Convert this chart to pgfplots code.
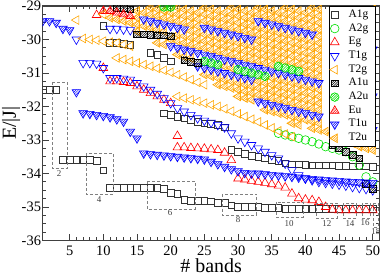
\documentclass[border=0pt]{standalone}
\usepackage{fontspec}
\setmainfont{Liberation Serif}
\usepackage{pgfplots}
\pgfplotsset{compat=1.18}
\usetikzlibrary{patterns}
\definecolor{cOr}{RGB}{255,165,0}
\definecolor{cGr}{RGB}{0,225,0}
\definecolor{cBl}{RGB}{0,0,255}
\definecolor{cRd}{RGB}{255,0,0}
\pgfdeclarepatternformonly{hatch}{\pgfqpoint{-1pt}{-1pt}}{\pgfqpoint{3.5pt}{3.5pt}}{\pgfqpoint{2.4pt}{2.4pt}}{\pgfsetlinewidth{0.5pt}\pgfpathmoveto{\pgfqpoint{0pt}{0pt}}\pgfpathlineto{\pgfqpoint{2.5pt}{2.5pt}}\pgfusepath{stroke}}
\pgfdeclareplotmark{tdown}{\pgfpathmoveto{\pgfqpointpolar{270}{\pgfplotmarksize}}\pgfpathlineto{\pgfqpointpolar{30}{\pgfplotmarksize}}\pgfpathlineto{\pgfqpointpolar{150}{\pgfplotmarksize}}\pgfpathclose\pgfusepathqstroke}
\pgfdeclareplotmark{tleft}{\pgfpathmoveto{\pgfqpointpolar{180}{\pgfplotmarksize}}\pgfpathlineto{\pgfqpointpolar{300}{\pgfplotmarksize}}\pgfpathlineto{\pgfqpointpolar{60}{\pgfplotmarksize}}\pgfpathclose\pgfusepathqstroke}
\pgfdeclareplotmark{hsqK}{\pgfsetfillpattern{hatch}{black}\pgfpathrectangle{\pgfqpoint{-\pgfplotmarksize}{-\pgfplotmarksize}}{\pgfqpoint{2\pgfplotmarksize}{2\pgfplotmarksize}}\pgfusepathqfillstroke}
\pgfdeclareplotmark{hciG}{\pgfsetfillpattern{hatch}{cGr}\pgfpathcircle{\pgfpointorigin}{\pgfplotmarksize}\pgfusepathqfillstroke}
\pgfdeclareplotmark{htrR}{\pgfsetfillpattern{hatch}{cRd}\pgfpathmoveto{\pgfqpointpolar{90}{\pgfplotmarksize}}\pgfpathlineto{\pgfqpointpolar{210}{\pgfplotmarksize}}\pgfpathlineto{\pgfqpointpolar{330}{\pgfplotmarksize}}\pgfpathclose\pgfusepathqfillstroke}
\pgfdeclareplotmark{htdB}{\pgfsetfillpattern{hatch}{cBl}\pgfpathmoveto{\pgfqpointpolar{270}{\pgfplotmarksize}}\pgfpathlineto{\pgfqpointpolar{30}{\pgfplotmarksize}}\pgfpathlineto{\pgfqpointpolar{150}{\pgfplotmarksize}}\pgfpathclose\pgfusepathqfillstroke}
\pgfdeclareplotmark{htlO}{\pgfsetfillpattern{hatch}{cOr}\pgfpathmoveto{\pgfqpointpolar{180}{\pgfplotmarksize}}\pgfpathlineto{\pgfqpointpolar{300}{\pgfplotmarksize}}\pgfpathlineto{\pgfqpointpolar{60}{\pgfplotmarksize}}\pgfpathclose\pgfusepathqfillstroke}
\pgfplotsset{
 sA1g/.style={only marks, mark=square, color=black!80, mark size=3.3bp, mark options={line width=0.6bp}},
 sA2g/.style={only marks, mark=o, color=cGr, mark size=4.3bp, mark options={line width=0.6bp}},
 sEg/.style={only marks, mark=triangle, color=cRd, mark size=5bp, mark options={line width=0.6bp}},
 sT1g/.style={only marks, mark=tdown, color=cBl, mark size=5bp, mark options={line width=0.6bp}},
 sT2g/.style={only marks, mark=tleft, color=cOr, mark size=5bp, mark options={line width=0.6bp}},
 sA1u/.style={only marks, mark=hsqK, color=black, mark size=3.3bp, mark options={line width=0.6bp}},
 sA2u/.style={only marks, mark=hciG, color=cGr, mark size=4.3bp, mark options={line width=0.6bp}},
 sEu/.style={only marks, mark=htrR, color=cRd, mark size=5bp, mark options={line width=0.6bp}},
 sT1u/.style={only marks, mark=htdB, color=cBl, mark size=5bp, mark options={line width=0.6bp}},
 sT2u/.style={only marks, mark=htlO, color=cOr, mark size=5bp, mark options={line width=0.6bp}},
}
\begin{document}
\begin{tikzpicture}
\begin{axis}[
 scale only axis, width=336.8bp, height=234.5bp,
 xmin=1, xmax=51, ymin=-36, ymax=-29,
 xtick={5,10,15,20,25,30,35,40,45,50}, xticklabels={5,10,15,20,25,30,35,40,45,50},
 ytick={-36,-35,-34,-33,-32,-31,-30,-29}, yticklabels={-36,-35,-34,-33,-32,-31,-30,-29},
 minor x tick num=4, minor y tick num=3,
 major tick length=6bp, minor tick length=3.5bp,
 tick style={line width=0.8bp, color=black!75},
 axis line style={line width=1.1bp, color=black!75},
 tick label style={font=\fontsize{14.5}{15}\selectfont},
 yticklabel style={inner xsep=1.5bp},
 xticklabel style={yshift=-2bp},
 every axis x label/.style={at={(axis description cs:0.5,0)}, anchor=base, yshift=-32.5bp, font=\fontsize{20}{22}\selectfont},
 every axis y label/.style={at={(axis description cs:0,0.5)}, xshift=-31.5bp, rotate=90, anchor=center, font=\fontsize{20}{22}\selectfont},
 xlabel={\# bands}, ylabel={E/|J|},
 clip marker paths=true,
 legend cell align=left,
 legend style={at={(1,1)}, anchor=north east, xshift=-3.5bp, draw=black, line width=0.8bp, fill=white,
   inner xsep=0bp, inner ysep=3.5bp, font=\fontsize{11.5}{13}\selectfont, row sep=3.7bp,
   nodes={inner sep=0bp, text height=7.5bp, text depth=2.5bp},
   /tikz/every odd column/.append style={column sep=9.5bp}},
]
% dense T2u cloud
\addplot[sT2u, forget plot] coordinates {
(11,-29.35)(12,-29.4)(13,-29.45)(14,-29.5)
(15,-29.15)(15,-29.35)(15,-29.55)(15,-29.75)
(16,-29.2)(16,-29.6)
(17,-29.05)(17,-29.25)(17,-29.65)
(18,-29.1)(18,-29.3)(18,-29.7)(18,-30.1)
(19,-29.15)(19,-29.35)(19,-29.75)(19,-30.15)
(20,-29.2)(20,-29.4)(20,-30.0)
(21,-29.05)(21,-29.25)(21,-29.45)(21,-29.85)(21,-30.05)(21,-30.45)
(22,-29.1)(22,-29.3)(22,-29.5)(22,-29.9)(22,-30.1)(22,-30.5)
(23,-29.15)(23,-29.35)(23,-29.55)(23,-29.75)(23,-29.95)(23,-30.15)(23,-30.55)
(24,-29.2)(24,-29.4)(24,-29.6)(24,-29.8)(24,-30.0)(24,-30.2)
(25,-29.05)(25,-29.25)(25,-29.45)(25,-29.85)(25,-30.05)(25,-30.25)(25,-31.05)
(26,-29.1)(26,-29.3)(26,-29.5)(26,-29.9)(26,-30.1)(26,-30.3)(26,-31.1)
(27,-29.15)(27,-29.35)(27,-29.55)(27,-29.95)(27,-30.15)(27,-30.35)(27,-31.15)(27,-31.35)
(28,-29.2)(28,-29.4)(28,-29.6)(28,-30.0)(28,-30.2)(28,-30.4)(28,-30.8)(28,-31.2)(28,-31.4)
(29,-29.05)(29,-29.25)(29,-29.45)(29,-29.65)(29,-30.05)(29,-30.25)(29,-30.45)(29,-30.85)(29,-31.25)(29,-31.45)
(30,-29.1)(30,-29.3)(30,-29.5)(30,-29.7)(30,-30.1)(30,-30.3)(30,-30.5)(30,-31.3)(30,-31.5)(30,-31.7)
(31,-29.15)(31,-29.35)(31,-29.55)(31,-29.75)(31,-30.15)(31,-30.35)(31,-30.55)(31,-31.35)(31,-31.55)(31,-31.75)
(32,-29.2)(32,-29.4)(32,-29.6)(32,-29.8)(32,-30.2)(32,-30.4)(32,-30.6)(32,-31.4)(32,-31.6)(32,-31.8)
(33,-29.05)(33,-29.25)(33,-29.65)(33,-29.85)(33,-30.05)(33,-30.25)(33,-30.45)(33,-30.65)(33,-31.25)(33,-31.45)(33,-31.65)
(34,-29.1)(34,-29.3)(34,-29.7)(34,-29.9)(34,-30.1)(34,-30.3)(34,-30.5)(34,-30.7)(34,-31.3)(34,-31.5)(34,-31.7)(34,-32.1)
(35,-29.15)(35,-29.35)(35,-29.75)(35,-29.95)(35,-30.15)(35,-30.35)(35,-30.55)(35,-30.75)(35,-31.15)(35,-31.35)(35,-31.55)(35,-31.75)(35,-32.15)
(36,-29.2)(36,-29.4)(36,-29.8)(36,-30.0)(36,-30.2)(36,-30.4)(36,-30.6)(36,-31.2)(36,-31.4)(36,-31.6)(36,-31.8)(36,-32.2)
(37,-29.05)(37,-29.25)(37,-29.45)(37,-29.85)(37,-30.05)(37,-30.25)(37,-30.45)(37,-30.65)(37,-31.25)(37,-31.45)(37,-31.65)(37,-31.85)(37,-32.25)
(38,-29.1)(38,-29.3)(38,-29.5)(38,-29.9)(38,-30.1)(38,-30.3)(38,-30.5)(38,-30.7)(38,-31.3)(38,-31.5)(38,-31.7)(38,-31.9)(38,-32.3)(38,-32.5)
(39,-29.15)(39,-29.35)(39,-29.55)(39,-29.95)(39,-30.15)(39,-30.35)(39,-30.55)(39,-30.75)(39,-31.35)(39,-31.55)(39,-31.75)(39,-31.95)(39,-32.35)(39,-32.55)
(40,-29.2)(40,-29.4)(40,-29.6)(40,-30.0)(40,-30.2)(40,-30.4)(40,-30.6)(40,-30.8)(40,-31.0)(40,-31.4)(40,-31.6)(40,-31.8)(40,-32.0)(40,-32.4)
(41,-29.05)(41,-29.25)(41,-29.45)(41,-29.65)(41,-30.05)(41,-30.25)(41,-30.45)(41,-30.65)(41,-30.85)(41,-31.05)(41,-31.45)(41,-31.65)(41,-31.85)(41,-32.05)(41,-32.45)(41,-32.65)
(42,-29.1)(42,-29.3)(42,-29.5)(42,-29.7)(42,-29.9)(42,-30.1)(42,-30.3)(42,-30.5)(42,-30.7)(42,-30.9)(42,-31.1)(42,-31.5)(42,-31.7)(42,-31.9)(42,-32.1)(42,-32.5)(42,-32.7)
(43,-32.75)(44,-32.8)(45,-32.9)(46,-33.0)(47,-33.1)(48,-33.2)(49,-33.25)
(50,-29.1)(50,-29.3)(50,-29.5)(50,-29.7)(50,-29.9)(50,-30.1)(50,-30.5)(50,-30.7)(50,-30.9)(50,-31.1)(50,-31.3)(50,-31.5)(50,-31.9)(50,-32.1)(50,-32.3)(50,-32.5)(50,-32.9)(50,-33.1)(50,-33.3)
};
% dense streaks
\addplot[sT1u, forget plot] coordinates {
(16,-29.4)(17,-29.45)(18,-29.5)(19,-29.55)(20,-29.6)(21,-29.65)(22,-29.7)
(25,-29.65)(26,-29.7)(27,-29.75)(28,-29.8)(29,-29.85)(30,-29.9)(31,-29.95)(32,-30.0)
(33,-29.45)(34,-29.5)(35,-29.55)(36,-29.6)(37,-29.65)(38,-29.7)(39,-29.75)(40,-29.8)(41,-29.85)
(20,-30.2)(21,-30.25)(22,-30.3)(23,-30.35)(24,-30.4)(25,-30.45)(26,-30.5)(27,-30.55)(28,-30.6)(29,-30.65)(30,-30.7)(31,-30.75)(32,-30.8)(33,-30.85)(34,-30.9)(35,-30.95)(36,-31.0)(37,-31.05)(38,-31.1)(39,-31.15)(40,-31.2)(41,-31.25)(42,-31.3)
(24,-30.8)(25,-30.85)(26,-30.9)(27,-30.95)(28,-31.0)(29,-31.05)(30,-31.1)(31,-31.15)(32,-31.2)
(33,-31.85)(34,-31.9)(35,-31.95)(36,-32.0)(37,-32.05)(38,-32.1)(39,-32.15)(40,-32.2)(41,-32.25)(42,-32.3)
(50,-30.3)(50,-31.7)(50,-32.7)
};
\addplot[sA2u, forget plot] coordinates {
(19,-29.03)(20,-29.03)(25,-30.65)(26,-30.7)(27,-30.75)(30,-30.9)(31,-30.95)(32,-31.0)(33,-31.05)(34,-31.1)(36,-30.8)(37,-30.85)(38,-30.9)(39,-30.95)
};
\addplot[sA1u, forget plot] coordinates {
(12,-29.05)(13,-29.05)(14,-29.1)(15,-29.85)(16,-29.85)(17,-29.86)(18,-29.87)(19,-29.88)(20,-29.9)(22,-30.62)(23,-30.66)(24,-30.7)
};
\addplot[sEu, forget plot] coordinates {
(10,-29.15)(11,-29.15)(12,-29.2)(13,-29.25)(14,-29.3)
};
% sparse series
\addplot[sA1g, forget plot] coordinates {
(1,-31.5)(2,-31.5)(3,-31.5)
(4,-33.6)(5,-33.6)(6,-33.6)(7,-33.6)(8,-33.6)(9,-33.62)(10,-33.9)
(11,-34.43)(12,-34.43)(13,-34.43)(14,-34.43)(15,-34.43)(16,-34.43)(17,-34.43)(18,-34.43)(19,-34.45)(20,-34.57)(21,-34.6)(22,-34.78)(23,-34.82)(24,-34.82)(25,-34.82)(26,-34.83)(27,-34.87)(28,-34.88)(29,-34.95)(30,-35.0)(31,-35.0)(32,-35.0)(33,-35.0)(34,-35.02)(35,-35.02)(36,-35.03)(37,-35.05)(38,-35.05)(39,-35.05)(40,-35.05)(41,-35.05)(42,-35.05)(43,-35.05)(44,-35.05)(45,-35.05)(46,-35.05)(47,-35.05)(48,-35.05)(49,-35.05)(50,-35.05)
(10,-29.6)(11,-30.1)(12,-30.1)(13,-30.12)(14,-30.15)
(17,-30.4)(18,-30.45)(19,-30.55)(20,-30.65)
(19,-32.2)(20,-32.25)(21,-32.3)(22,-32.35)(23,-32.4)(24,-32.45)(25,-32.5)(26,-32.52)(27,-32.55)(28,-32.62)(29,-33.3)(30,-33.35)(31,-33.42)(32,-33.48)(33,-33.5)(34,-33.55)(35,-33.6)(36,-33.62)(37,-33.7)(38,-33.72)(39,-33.73)(40,-33.74)(41,-33.75)(42,-33.75)(43,-33.76)(44,-33.76)(45,-33.77)(46,-33.77)(47,-33.78)(48,-33.78)(49,-33.79)(50,-33.8)
};
\addplot[sA2g, forget plot] coordinates {
(36,-32.8)(37,-32.85)(38,-32.9)(39,-32.95)(40,-33.0)(41,-33.05)(42,-33.12)(43,-33.2)(44,-33.25)(45,-33.3)(46,-33.35)(47,-33.5)(48,-33.75)(49,-34.1)(50,-34.25)
};
\addplot[sEg, forget plot] coordinates {
(9,-29.27)(10,-30.85)(11,-31.25)(12,-31.25)(13,-31.27)(14,-31.3)(15,-31.4)(16,-31.5)(17,-31.6)(18,-31.7)(19,-31.8)(20,-31.9)(21,-32.88)
(21,-33.22)(22,-33.22)(23,-33.24)(24,-33.25)(25,-33.26)(26,-33.28)(27,-33.3)(28,-33.38)(29,-33.6)
(30,-34.15)(31,-34.18)(32,-34.22)(33,-34.25)(34,-34.28)(35,-34.32)(36,-34.36)(37,-34.42)(38,-34.6)(39,-34.74)(40,-34.78)(41,-34.8)(42,-34.85)(43,-35.0)(44,-35.08)(45,-35.1)(46,-35.1)(47,-35.1)(48,-35.1)(49,-35.1)(50,-35.1)
};
\addplot[sT1g, forget plot] coordinates {
(11,-29.68)(12,-29.68)(13,-29.7)(14,-29.72)
(6,-30.0)(7,-30.7)(8,-30.7)(9,-30.72)(10,-30.85)(11,-31.15)(12,-31.15)(13,-31.17)(14,-31.2)(15,-31.3)(16,-31.4)(17,-31.5)(18,-31.62)(19,-31.75)(20,-31.9)(21,-32.05)(22,-32.15)(23,-32.25)(24,-32.35)(25,-32.42)(26,-32.48)(27,-32.55)(28,-32.62)(29,-32.8)(30,-32.95)(31,-33.05)(32,-33.15)(33,-33.25)(34,-33.35)(35,-33.45)(36,-33.55)(37,-33.7)(38,-33.9)(39,-34.05)(40,-34.15)(41,-34.2)(42,-34.25)(43,-34.28)(44,-34.3)(45,-34.33)(46,-34.36)(47,-34.4)(48,-34.43)(49,-34.46)(50,-34.5)
};
\addplot[sT2g, forget plot] coordinates {
(6,-29.42)(10,-29.25)
(7,-29.97)(8,-30.0)(9,-30.02)(10,-30.05)(11,-30.08)(12,-30.1)(13,-30.15)(14,-30.2)
(12,-30.55)(13,-30.6)(14,-30.65)(15,-30.7)(16,-30.75)(17,-30.8)(18,-30.86)(19,-30.92)(20,-30.98)(21,-31.05)(22,-31.12)(23,-31.2)(24,-31.28)(25,-31.35)
(21,-31.7)(22,-31.75)(23,-31.8)(24,-31.85)(25,-31.9)(26,-31.95)(27,-32.0)(28,-32.07)(29,-32.14)(30,-32.22)(31,-32.3)(32,-32.38)(33,-32.46)(34,-32.55)(35,-32.64)(36,-32.73)(37,-32.82)(38,-32.9)
};
\addplot[sA1u, forget plot] coordinates {
(44,-33.15)(45,-33.25)(46,-33.35)(47,-33.45)(48,-33.55)(49,-34.3)(50,-34.45)
};
\addplot[sT1u, forget plot] coordinates {
(1,-29.45)(2,-29.45)(3,-29.5)(4,-29.68)(5,-29.72)
(6,-31.57)(7,-32.2)(8,-32.22)(9,-32.25)(10,-32.28)(11,-32.32)(12,-32.38)(13,-32.45)(14,-32.75)(15,-32.95)(16,-33.4)(17,-33.42)(18,-33.44)(19,-33.46)(20,-33.48)(21,-33.5)(22,-33.52)(23,-33.54)(24,-33.56)(25,-33.58)(26,-33.65)(27,-33.72)(28,-33.8)(29,-33.87)(30,-33.93)(31,-33.98)(32,-34.0)(33,-34.0)(34,-34.02)(35,-34.04)(36,-34.06)(37,-34.08)(38,-34.1)(39,-34.12)(40,-34.14)(41,-34.16)(42,-34.18)(43,-34.2)(44,-34.21)(45,-34.22)(46,-34.24)(47,-34.25)(48,-34.26)(49,-34.27)(50,-34.28)
};
% dashed boxes
\begin{scope}[gray, densely dashed, line width=0.7bp]
\draw (axis cs:2.38,-31.27) rectangle (axis cs:4.61,-33.84);
\draw (axis cs:7.43,-33.39) rectangle (axis cs:11.44,-34.61);
\draw (axis cs:16.48,-34.22) rectangle (axis cs:23.61,-35.06);
\draw (axis cs:27.62,-34.61) rectangle (axis cs:32.67,-35.24);
\draw (axis cs:35.64,-34.85) rectangle (axis cs:39.65,-35.3);
\draw (axis cs:41.58,-34.88) rectangle (axis cs:44.69,-35.33);
\draw (axis cs:45.58,-34.88) rectangle (axis cs:47.51,-35.33);
\draw (axis cs:48.4,-34.88) rectangle (axis cs:49.6,-35.33);
\draw (axis cs:50.03,-34.88) rectangle (axis cs:50.77,-35.6);
\end{scope}
\begin{scope}[every node/.style={font=\fontsize{9}{10}\selectfont, text=black!75, inner sep=0pt}]
\node at (axis cs:3.42,-33.99) {2};
\node at (axis cs:9.36,-34.79) {4};
\node at (axis cs:19.9,-35.18) {6};
\node at (axis cs:30.0,-35.39) {8};
\node at (axis cs:37.57,-35.48) {10};
\node at (axis cs:43.2,-35.48) {12};
\node at (axis cs:46.62,-35.48) {14};
\node at (axis cs:48.85,-35.48) {16};
\node at (axis cs:50.45,-35.72) {18};
\end{scope}
\addlegendimage{sA1g}\addlegendentry{\makebox[27bp][l]{A1g}}
\addlegendimage{sA2g}\addlegendentry{\makebox[27bp][l]{A2g}}
\addlegendimage{sEg}\addlegendentry{\makebox[27bp][l]{Eg}}
\addlegendimage{sT1g}\addlegendentry{\makebox[27bp][l]{T1g}}
\addlegendimage{sT2g}\addlegendentry{\makebox[27bp][l]{T2g}}
\addlegendimage{sA1u}\addlegendentry{\makebox[27bp][l]{A1u}}
\addlegendimage{sA2u}\addlegendentry{\makebox[27bp][l]{A2u}}
\addlegendimage{sEu}\addlegendentry{\makebox[27bp][l]{Eu}}
\addlegendimage{sT1u}\addlegendentry{\makebox[27bp][l]{T1u}}
\addlegendimage{sT2u}\addlegendentry{\makebox[27bp][l]{T2u}}
\end{axis}
\pgfresetboundingbox
\path[use as bounding box] ([shift={(-42.7bp,-35.5bp)}]current axis.south west) rectangle ([shift={(2.5bp,6bp)}]current axis.north east);
\end{tikzpicture}
\end{document}
